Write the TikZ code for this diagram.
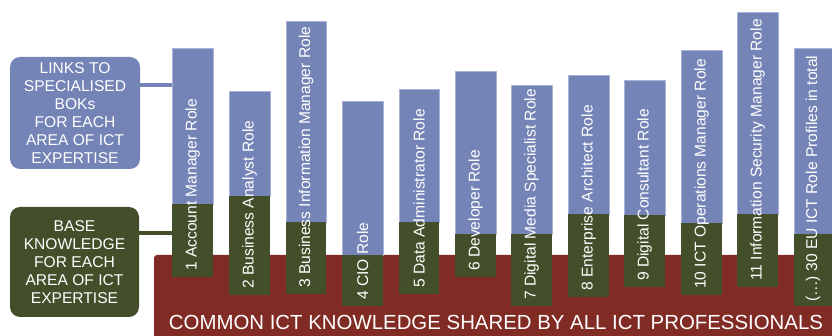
\documentclass[tikz,border=0pt]{standalone}
\usepackage{fontspec}
\setmainfont{Liberation Sans}
\usepackage{xcolor}
\usetikzlibrary{positioning, calc}

\definecolor{roleblue}{HTML}{7584B6}
\definecolor{roleedge}{HTML}{A9B4D8}
\definecolor{basegreen}{HTML}{434F2A}
\definecolor{commonred}{HTML}{812B25}

\tikzset{
  rolepart/.style={fill=roleblue, draw=roleedge, line width=0.8pt},
  basepart/.style={fill=basegreen},
  rolelabel/.style={anchor=west, rotate=90, inner sep=0pt, text=white,
    font=\fontsize{15.6}{17}\selectfont},
  sidebox/.style={rounded corners=10pt, text=white, align=center, text depth=0pt,
    font=\fontsize{15.6}{18}\selectfont, inner sep=0pt},
  link/.style={line width=4pt}
}

\begin{document}
\begin{tikzpicture}[x=1pt,y=-1pt]
      \useasboundingbox (0,0) rectangle (832,336);
      % common knowledge block
      \fill[commonred, rounded corners=3pt](154,255) rectangle (845,345);
      % role bars: blue = specialised part, green = base part
      \draw[rolepart](172,48) rectangle (213,204);
      \fill[basepart](172,204) rectangle (213,277);
      \draw[rolepart](229,91) rectangle (270,196);
      \fill[basepart](229,196) rectangle (270,295);
      \draw[rolepart](286,21) rectangle (326,222);
      \fill[basepart](286,222) rectangle (326,294);
      \draw[rolepart](342,101) rectangle (383,255);
      \fill[basepart](342,255) rectangle (383,306);
      \draw[rolepart](399,89) rectangle (439,222);
      \fill[basepart](399,222) rectangle (439,294);
      \draw[rolepart](455,71) rectangle (496,234);
      \fill[basepart](455,234) rectangle (496,277);
      \draw[rolepart](511,85) rectangle (552,234);
      \fill[basepart](511,234) rectangle (552,306);
      \draw[rolepart](568,75) rectangle (609,214);
      \fill[basepart](568,214) rectangle (609,297);
      \draw[rolepart](624,80) rectangle (665,215);
      \fill[basepart](624,215) rectangle (665,287);
      \draw[rolepart](681,50) rectangle (722,223);
      \fill[basepart](681,223) rectangle (722,295);
      \draw[rolepart](737,12) rectangle (778,214);
      \fill[basepart](737,214) rectangle (778,287);
      \draw[rolepart](794,48) rectangle (836,234);
      \fill[basepart](794,234) rectangle (836,306);
      % labels
      \node[rolelabel] (r1) at (192.5,271) {1 Account Manager Role};
      \node[rolelabel] (r2) at (249.5,289) {2 Business Analyst Role};
      \node[rolelabel] (r3) at (306,288) {3 Business Information Manager Role};
      \node[rolelabel] (r4) at (362.5,300) {4 CIO Role};
      \node[rolelabel] (r5) at (419,288) {5 Data Administrator Role};
      \node[rolelabel] (r6) at (475.5,271) {6 Developer Role};
      \node[rolelabel] (r7) at (531.5,300) {7 Digital Media Specialist Role};
      \node[rolelabel] (r8) at (588.5,291) {8 Enterprise Architect Role};
      \node[rolelabel] (r9) at (644.5,281) {9 Digital Consultant Role};
      \node[rolelabel] (r10) at (701.5,289) {10 ICT Operations Manager Role};
      \node[rolelabel] (r11) at (757.5,281) {11 Information Security Manager Role};
      \node[rolelabel] (r12) at (813,302) {(…) 30 EU ICT Role Profiles in total};
      \node[anchor=base, text=white, inner sep=0pt, font=\fontsize{20.4}{24}\selectfont]
        (common) at (496,330) {COMMON ICT KNOWLEDGE SHARED BY ALL ICT PROFESSIONALS};
      % side boxes
      \node[sidebox, fill=roleblue, minimum width=130pt, minimum height=112pt]
        (links) at (75,113) {LINKS TO\\SPECIALISED\\BOKs\\FOR EACH\\AREA OF ICT\\EXPERTISE};
      \node[sidebox, fill=basegreen, minimum width=129pt, minimum height=110pt]
        (base) at (74.5,262) {BASE\\KNOWLEDGE\\FOR EACH\\AREA OF ICT\\EXPERTISE};
      \coordinate (b1top) at (172,85);
      \coordinate (b1bot) at (172,233);
      \draw[link, roleblue](links.east |- b1top) -- (b1top);
      \draw[link, basegreen](base.east |- b1bot) -- (b1bot);
    \end{tikzpicture}
\end{document}
